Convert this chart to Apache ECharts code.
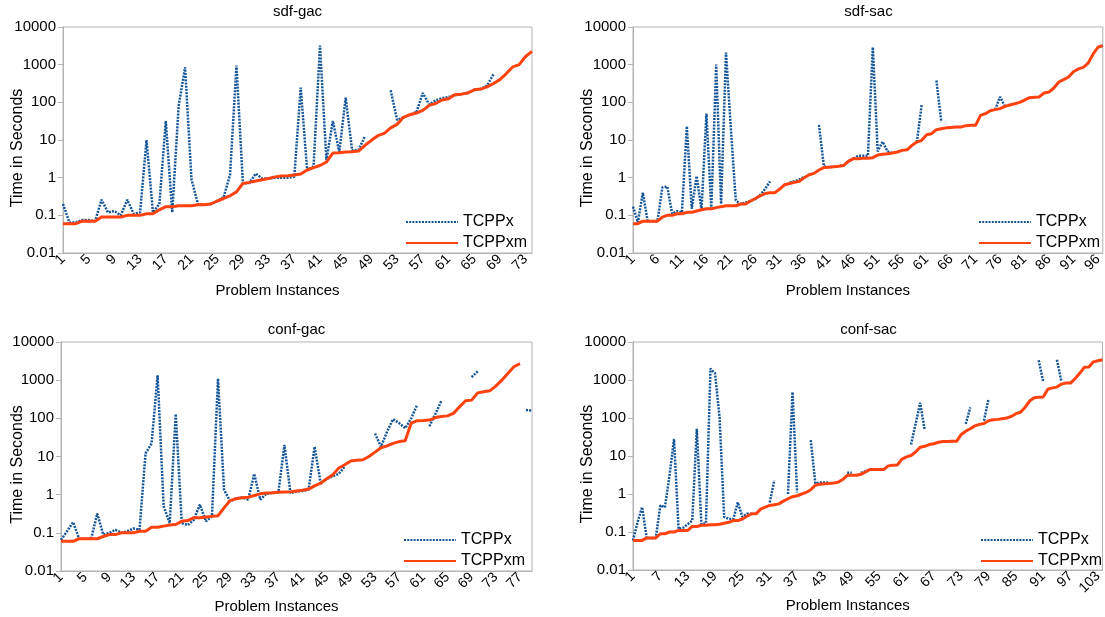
<!DOCTYPE html>
<html><head><meta charset="utf-8">
<script src="https://cdn.jsdelivr.net/npm/echarts@6/dist/echarts.min.js"></script>
<style>html,body{margin:0;padding:0;background:#fff}#c{width:1105px;height:617px}</style>
</head><body><div id="c"></div>
<script>
// ---- data ----
const panelTitles = ['sdf-gac', 'sdf-sac', 'conf-gac', 'conf-sac'];
const seriesNames = ['TCPPx', 'TCPPxm'];
const yTickLabels = ['0.01', '0.1', '1', '10', '100', '1000', '10000'];
const xAxisTitle = 'Problem Instances';
const yAxisTitle = 'Time in Seconds';
const instanceCounts = [74, 97, 79, 104];

const sdfGacX = [0.2,0.065,0.065,0.075,0.075,0.07,0.26,0.12,0.13,0.1,
 0.26,0.11,0.12,10,0.12,0.2,32,0.12,80,850,
 0.9,0.2,0.19,0.2,0.24,0.3,1.2,950,0.7,0.72,
 1.28,0.95,0.95,1.0,1.0,1.0,1.05,245,1.6,2.0,
 3200,2.9,32,4.8,133,5.3,5.5,12.5,null,null,
 null,208,34,40,47,55,177,88,113,130,
 139,155,165,177,215,225,280,550,null,null,
 null,null,null,null];
const sdfGacXm = [0.06,0.06,0.06,0.07,0.07,0.07,0.09,0.09,0.09,0.09,
 0.1,0.1,0.1,0.11,0.11,0.14,0.17,0.17,0.18,0.18,
 0.18,0.19,0.19,0.2,0.24,0.28,0.33,0.42,0.7,0.75,
 0.82,0.88,0.95,1.05,1.1,1.13,1.18,1.25,1.6,1.85,
 2.1,2.6,4.5,4.6,4.8,4.9,5.1,7.2,9.8,13,
 15,21,26,40,47,52,61,83,93,115,
 125,160,165,177,215,225,257,316,400,580,
 870,1000,1650,2250];

const sdfSacX = [0.17,0.065,0.4,0.07,0.07,0.07,0.55,0.58,0.11,0.13,
 0.12,23,0.15,1.1,0.14,50,0.15,1000,0.2,2100,
 20,0.25,0.2,0.22,0.24,0.27,0.35,0.5,0.8,null,
 null,null,0.75,0.8,0.9,1.05,null,null,25,2.0,
 1.9,1.95,2.0,2.1,2.7,3.2,3.8,3.8,3.8,2900,
 5,9,5,4.5,null,null,null,null,8.8,88,
 null,null,380,30,null,null,null,null,null,null,
 null,null,null,null,64,140,78,null,null,null,
 null,null,null,null,null,null,null,null,null,null,
 null,null,null,null,null,2900,3200];
const sdfSacXm = [0.06,0.06,0.07,0.07,0.07,0.07,0.09,0.1,0.1,0.11,
 0.11,0.12,0.12,0.13,0.14,0.15,0.15,0.16,0.17,0.18,
 0.18,0.18,0.2,0.2,0.24,0.28,0.33,0.38,0.4,0.4,
 0.5,0.65,0.7,0.75,0.8,1.0,1.2,1.3,1.6,1.85,
 1.9,1.95,2.0,2.1,2.7,3.2,3.2,3.3,3.3,3.4,
 4.0,4.2,4.3,4.5,4.8,5.3,5.5,7.2,8.8,9.8,
 13.8,14.7,18.8,20,21,21.5,22,22,24,24.5,
 24.5,45,50,60,64,68,78,85,92,100,
 115,133,136,139,177,188,240,347,400,470,
 650,770,850,1100,1900,2900,3200];

const confGacX = [0.065,0.11,0.19,0.07,0.07,0.07,0.32,0.09,0.1,0.12,
 0.1,0.11,0.13,0.12,12,22,1350,0.5,0.18,130,
 0.18,0.16,0.22,0.55,0.2,0.27,1100,1.35,0.67,0.8,
 0.85,0.74,3.5,0.74,1.06,1.1,1.15,20,1.1,1.2,
 1.25,1.35,18,2.0,2.6,3.0,3.5,5.5,null,null,
 null,null,40,18,45,95,75,55,100,230,
 null,62,130,290,null,null,null,null,1200,1700,
 null,null,null,null,null,null,null,165,160];
const confGacXm = [0.06,0.06,0.06,0.07,0.07,0.07,0.07,0.08,0.09,0.09,
 0.1,0.1,0.1,0.11,0.11,0.14,0.14,0.15,0.16,0.165,
 0.2,0.21,0.25,0.25,0.26,0.27,0.28,0.45,0.7,0.78,
 0.83,0.86,0.95,1.05,1.1,1.12,1.15,1.18,1.2,1.25,
 1.3,1.4,1.7,2.0,2.6,3.3,5.0,6.1,7.6,8.0,
 8.2,10,13,17,19,22,24.6,26,75,87,
 88,90,105,112,116,135,200,290,300,465,
 500,525,700,1000,1500,2250,2700,null,null];

const confSacX = [0.06,0.18,0.45,0.07,0.07,0.07,0.5,0.45,3,28,
 0.12,0.13,0.16,0.2,52,0.16,0.17,2000,1500,100,
 0.25,0.22,0.22,0.6,0.25,0.3,0.3,null,null,null,
 0.6,2.3,null,null,1.0,480,1.1,null,null,26,
 1.9,2.0,2.0,2.0,null,null,null,3.6,3.6,null,
 3.6,4.0,4.4,null,null,null,null,null,null,null,
 null,20,70,250,48,null,null,null,null,null,
 null,null,null,70,190,null,null,85,320,null,
 null,null,null,null,null,null,null,null,null,3300,
 900,null,null,3400,900,null,null,null,null,null,
 null,null,null,null];
const confSacXm = [0.06,0.06,0.06,0.07,0.07,0.07,0.09,0.09,0.1,0.1,
 0.11,0.11,0.11,0.14,0.14,0.15,0.15,0.155,0.155,0.16,
 0.17,0.18,0.2,0.2,0.22,0.26,0.3,0.3,0.4,0.45,
 0.5,0.52,0.55,0.65,0.75,0.85,0.9,1.0,1.1,1.3,
 1.7,1.8,1.85,1.9,1.95,2.05,2.4,3.1,3.1,3.1,
 3.3,3.8,4.4,4.4,4.4,4.4,5.5,5.7,5.8,8.3,
 9.5,10.3,12.7,17,18,20,21,23,24,24.2,
 24.3,24.3,37,45,52,62,68,72,85,90,
 92,96,100,110,130,142,190,280,340,350,
 357,570,620,650,780,830,830,1100,1500,2150,
 2200,3000,3200,3400];

const panelX = [sdfGacX, sdfSacX, confGacX, confSacX];
const panelXm = [sdfGacXm, sdfSacXm, confGacXm, confSacXm];

// ---- layout ----
const FONT = 'Liberation Sans, Arial, sans-serif';
const grids = [
  {left: 63, top: 27, width: 469, height: 226},
  {left: 633, top: 27, width: 471, height: 226},
  {left: 61, top: 342, width: 471, height: 229},
  {left: 633, top: 342, width: 471, height: 228}
];
const labelIntervals = [3, 4, 3, 5];
const legendPos = [[405, 214], [978, 214], [403, 532], [980, 532]];
const titleY = [4, 322];

const option = {
  animation: false,
  backgroundColor: '#fff',
  textStyle: {fontFamily: FONT},
  title: [], grid: [], xAxis: [], yAxis: [], legend: [], series: []
};

grids.forEach((g, i) => {
  option.grid.push(Object.assign({show: true, borderColor: '#b3b3b3', borderWidth: 1, containLabel: false}, g));
  option.title.push({
    text: panelTitles[i], left: g.left + g.width / 2, top: titleY[Math.floor(i / 2)], textAlign: 'center', padding: 0,
    textStyle: {fontSize: 15, fontWeight: 'normal', color: '#000', fontFamily: FONT}
  });
  const cats = Array.from({length: instanceCounts[i]}, (_, k) => String(k + 1));
  option.xAxis.push({
    type: 'category', gridIndex: i, data: cats, boundaryGap: false,
    name: xAxisTitle, nameLocation: 'middle', nameGap: i < 2 ? 30 : 28, nameMoveOverlap: false,
    nameTextStyle: {fontSize: 15, color: '#000', fontFamily: FONT, padding: [0, 40, 0, 0]},
    axisLine: {lineStyle: {color: '#b3b3b3'}},
    axisTick: {show: false},
    axisLabel: {interval: labelIntervals[i], rotate: 45, fontSize: 14, color: '#000', margin: 4, fontFamily: FONT},
    splitLine: {show: false}
  });
  option.yAxis.push({
    type: 'log', logBase: 10, gridIndex: i, min: 0.01, max: 10000,
    name: yAxisTitle, nameLocation: 'middle', nameGap: i === 2 ? 35 : 37, nameRotate: 90, nameMoveOverlap: false,
    nameTextStyle: {fontSize: 16, color: '#000', fontFamily: FONT, padding: [0, 16, 0, 0]},
    axisLine: {show: true, lineStyle: {color: '#b3b3b3'}},
    axisTick: {show: true, length: 5, lineStyle: {color: '#b3b3b3'}},
    axisLabel: {fontSize: 15, color: '#000', margin: 7, fontFamily: FONT,
      formatter: v => { const e = Math.round(Math.log10(v)); return yTickLabels[e + 2] || ''; }},
    splitLine: {show: false}, minorTick: {show: false}
  });
  option.legend.push({
    orient: 'vertical', left: legendPos[i][0], top: legendPos[i][1], padding: 0,
    itemWidth: 52, itemHeight: 16, itemGap: 5, selectedMode: false,
    itemStyle: {opacity: 0},
    data: seriesNames,
    textStyle: {fontSize: 16, color: '#000', fontFamily: FONT}
  });
  option.series.push({
    name: seriesNames[0], type: 'line', xAxisIndex: i, yAxisIndex: i,
    data: panelX[i], showSymbol: false, symbol: 'none', connectNulls: false, z: 2,
    lineStyle: {color: '#135596', width: 2.5, type: [2, 1.2], cap: 'butt'},
    itemStyle: {color: '#135596'}
  });
  option.series.push({
    name: seriesNames[1], type: 'line', xAxisIndex: i, yAxisIndex: i,
    data: panelXm[i], showSymbol: false, symbol: 'none', connectNulls: false, z: 3,
    lineStyle: {color: '#ff420e', width: 3},
    itemStyle: {color: '#ff420e'}
  });
});

const chart = echarts.init(document.getElementById('c'), null, {renderer: 'canvas'});
chart.setOption(option);
</script></body></html>
